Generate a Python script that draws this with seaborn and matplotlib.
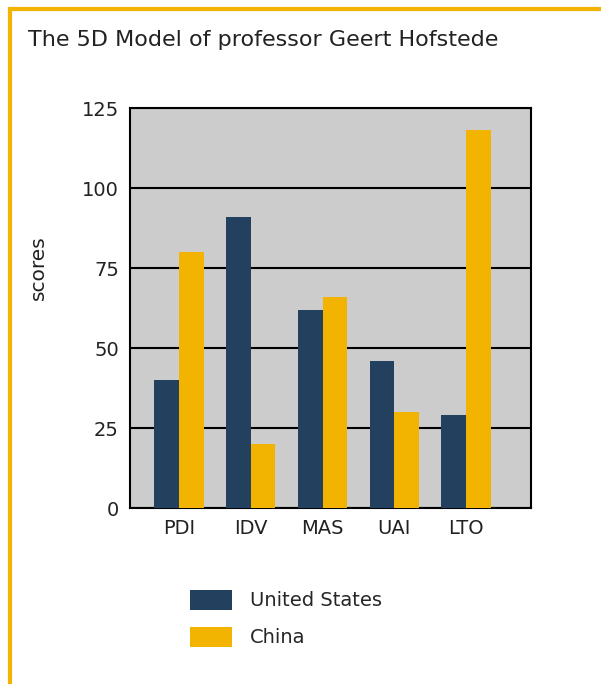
import pandas as pd
import matplotlib.pyplot as plt
import matplotlib.patches as mpatches
import seaborn as sns

# Hofstede dimension scores
dimensions = ["PDI", "IDV", "MAS", "UAI", "LTO"]
us_scores = [40, 91, 62, 46, 29]
china_scores = [80, 20, 66, 30, 118]
countries = ["United States", "China"]
colors = ["#23405e", "#f2b400"]

df = pd.DataFrame({
    "dimension": dimensions * 2,
    "country": [countries[0]] * len(dimensions) + [countries[1]] * len(dimensions),
    "score": us_scores + china_scores,
})

sns.set_style("white")
plt.rcParams['font.family'] = ['DejaVu Sans']

fig = plt.figure(figsize=(6.01, 6.84), dpi=100)
ax = fig.add_axes([0.2163, 0.2573, 0.667, 0.5848])
ax.set_facecolor("#cccccc")

sns.barplot(data=df, x="dimension", y="score", hue="country",
            palette=colors, width=0.69, saturation=1, ax=ax,
            edgecolor="none", legend=False, zorder=3)

ax.set_ylim(0, 125)
ax.set_xlim(-0.68, 4.9)
ax.set_yticks([0, 25, 50, 75, 100, 125])
ax.yaxis.grid(True, color="black", linewidth=1.5, zorder=0)
ax.set_axisbelow(True)
for s in ax.spines.values():
    s.set_color("black")
    s.set_linewidth(1.5)
ax.tick_params(axis="both", length=0, labelsize=14, colors="#222222", pad=8)
ax.set_xlabel("")
ax.set_ylabel("scores", fontsize=14.5, color="#222222")
ax.yaxis.set_label_coords(-0.204, 0.6)

fig.text(28 / 601, 1 - 40 / 684, "The 5D Model of professor Geert Hofstede",
         fontsize=16, color="#222222", va="center", ha="left")

# legend
handles = [mpatches.Patch(facecolor=c, edgecolor="none") for c in colors]
fig.legend(handles, countries, loc="center left",
           bbox_to_anchor=(190 / 601, 1 - 618.5 / 684),
           frameon=False, fontsize=14, handlelength=2.16, handleheight=1.2,
           labelspacing=0.85, handletextpad=0.93, borderpad=0, borderaxespad=0)

# orange frame round the chart
frame = mpatches.Rectangle((10 / 601, -0.002), 1.0, 1 - 9 / 684 + 0.002,
                           transform=fig.transFigure, fill=False,
                           edgecolor="#f2b400", linewidth=3, clip_on=False)
fig.patches.append(frame)

plt.savefig("out.png", dpi=100)
